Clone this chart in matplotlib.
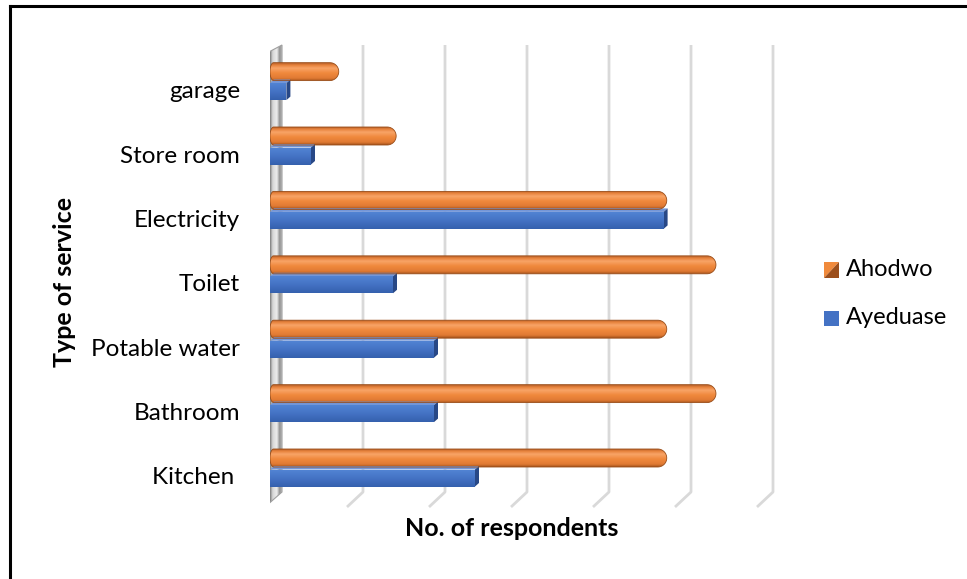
import numpy as np
import matplotlib
matplotlib.use("Agg")
import matplotlib.pyplot as plt
from matplotlib.patches import Polygon
from matplotlib.colors import LinearSegmentedColormap
from matplotlib.lines import Line2D

# data (bottom to top)
services = ["Kitchen ", "Bathroom", "Potable water", "Toilet", "Electricity", "Store room", "garage"]
ahodwo = [48, 54, 48, 54, 48, 15, 8]
ayeduase = [25, 20, 20, 15, 48, 5, 2]
grid_step = 10

plt.rcParams['font.family'] = ['Lato', 'DejaVu Sans']

W, H = 967, 579
fig = plt.figure(figsize=(W / 100, H / 100), dpi=100)
fig.patch.set_facecolor('white')

# axes placed in pixel terms
ax_l, ax_r, ax_t, ax_b = 270, 790, 40, 510
ax = fig.add_axes([ax_l / W, 1 - ax_b / H, (ax_r - ax_l) / W, (ax_b - ax_t) / H])
px_x = 8.2          # pixels per respondent
px_y = 64.4         # pixels per category
y0_px = 468         # pixel of the Kitchen pair centre
xlim = (0, (ax_r - ax_l) / px_x)
ylim = ((y0_px - ax_b) / px_y, (y0_px - ax_t) / px_y)
ax.set_xlim(*xlim)
ax.set_ylim(*ylim)
ax.axis('off')

def dx(p):
    return p / px_x

def dy(p):
    return p / px_y

# back wall on the left
top_back, bot_back, bot_front = dy(y0_px - 45), dy(y0_px - 492), dy(y0_px - 507)
wall = Polygon([(dx(-5), bot_front), (dx(12), bot_back), (dx(12), top_back),
                (dx(-5), dy(y0_px - 54))], closed=True, facecolor='#B8B8B8',
               edgecolor='#A0A0A0', lw=0.8, zorder=1.2)
ax.add_patch(wall)
wall_cmap = LinearSegmentedColormap.from_list(
    'wall', [(0, '#9A9A9A'), (0.22, '#4F4F4F'), (0.45, '#D6D6D6'), (0.7, '#EDEDED'), (0.88, '#8E8E8E'), (1, '#C4C4C4')])
im = ax.imshow(np.linspace(0, 1, 64).reshape(1, -1), extent=[dx(-5), dx(12), bot_front, top_back],
               aspect='auto', cmap=wall_cmap, zorder=1.1)
im.set_clip_path(wall)
wall.set_facecolor('none')

# gridlines with the 3D floor kink
for k in range(1, 7):
    xb = k * grid_step + dx(11)
    xf = k * grid_step + dx(-5)
    ax.plot([xb, xb, xf], [top_back, bot_back, bot_front], color='#D9D9D9', lw=2,
            solid_capstyle='butt', zorder=1)

orange_cmap = LinearSegmentedColormap.from_list(
    'org', [(0, '#A4531C'), (0.15, '#E07A33'), (0.45, '#F0893D'), (0.72, '#F8A467'), (0.9, '#E5803A'), (1, '#B8612A')])
blue_cmap = LinearSegmentedColormap.from_list(
    'blu', [(0, '#3561AE'), (0.5, '#4472C4'), (1, '#5183D3')])

oh = dy(18)      # orange bar height
bh = dy(17)      # blue front face height
off = dy(10)     # offset from pair centre
ddx, ddy = dx(4), dy(3.5)

for i, (va, vb) in enumerate(zip(ahodwo, ayeduase)):
    # Ahodwo cylinder
    yc = i + off
    rx, ry = dx(9), oh / 2
    t = np.linspace(-np.pi / 2, np.pi / 2, 30)
    xe = va - rx * 0.65
    right = np.column_stack([xe + rx * np.cos(t), yc + ry * np.sin(t)])
    left = np.column_stack([rx * 0.4 - rx * 0.4 * np.cos(t[::-1]), yc + ry * np.sin(t[::-1])])
    poly = Polygon(np.vstack([right, left]), closed=True, facecolor='none',
                   edgecolor='#9A4D18', lw=0.6, zorder=4)
    ax.add_patch(poly)
    im = ax.imshow(np.linspace(0, 1, 64).reshape(-1, 1), extent=[0, va + rx, yc - ry, yc + ry],
                   aspect='auto', cmap=orange_cmap, origin='lower', zorder=3)
    im.set_clip_path(poly)

    # Ayeduase box
    yb = i - off
    b0, b1 = yb - bh / 2, yb + bh / 2
    top = Polygon([(0, b1), (ddx, b1 + ddy), (vb + ddx, b1 + ddy), (vb, b1)], closed=True,
                  facecolor='#7396D8', edgecolor='none', zorder=3)
    side = Polygon([(vb, b0), (vb + ddx, b0 + ddy), (vb + ddx, b1 + ddy), (vb, b1)], closed=True,
                   facecolor='#284886', edgecolor='none', zorder=3)
    front = Polygon([(0, b0), (vb, b0), (vb, b1), (0, b1)], closed=True,
                    facecolor='none', edgecolor='none', zorder=3)
    ax.add_patch(top)
    ax.add_patch(side)
    ax.add_patch(front)
    im = ax.imshow(np.linspace(0, 1, 32).reshape(-1, 1), extent=[0, vb, b0, b1],
                   aspect='auto', cmap=blue_cmap, origin='lower', zorder=3)
    im.set_clip_path(front)

    # category label
    ax.text(dx(-30), i - dy(10), services[i], ha='right', va='center', fontsize=17.5, clip_on=False)

ax.set_xlim(*xlim)
ax.set_ylim(*ylim)

# axis titles
fig.text(65 / W, 1 - 282 / H, "Type of service", rotation=90, ha='center', va='center',
         fontsize=18, fontweight='bold')
fig.text(512 / W, 1 - 529 / H, "No. of respondents", ha='center', va='center',
         fontsize=18, fontweight='bold')

# legend drawn by hand
def fx(p):
    return p / W

def fy(p):
    return 1 - p / H

x0, x1 = 824, 839
y0, y1 = 262, 278
fig.add_artist(Polygon([(fx(x0), fy(y0)), (fx(x1), fy(y0)), (fx(x0), fy(y1))], closed=True,
                       transform=fig.transFigure, facecolor='#F08A3C', edgecolor='none'))
fig.add_artist(Polygon([(fx(x1), fy(y0)), (fx(x1), fy(y1)), (fx(x0), fy(y1))], closed=True,
                       transform=fig.transFigure, facecolor='#9C4F1C', edgecolor='none'))
fig.text(fx(846), fy(270), "Ahodwo", ha='left', va='center', fontsize=17)
y0, y1 = 311, 326
fig.add_artist(Polygon([(fx(x0), fy(y0)), (fx(x1), fy(y0)), (fx(x1), fy(y1)), (fx(x0), fy(y1))],
                       closed=True, transform=fig.transFigure, facecolor='#4472C4', edgecolor='none'))
fig.text(fx(846), fy(318), "Ayeduase", ha='left', va='center', fontsize=17)

# outer frame (top and left edges visible)
fig.add_artist(Line2D([fx(10), fx(10)], [0, fy(5.5)], transform=fig.transFigure, color='black', lw=2.2))
fig.add_artist(Line2D([fx(10), 1], [fy(5.5), fy(5.5)], transform=fig.transFigure, color='black', lw=2.2))

fig.savefig('out.png', dpi=100, facecolor='white')
